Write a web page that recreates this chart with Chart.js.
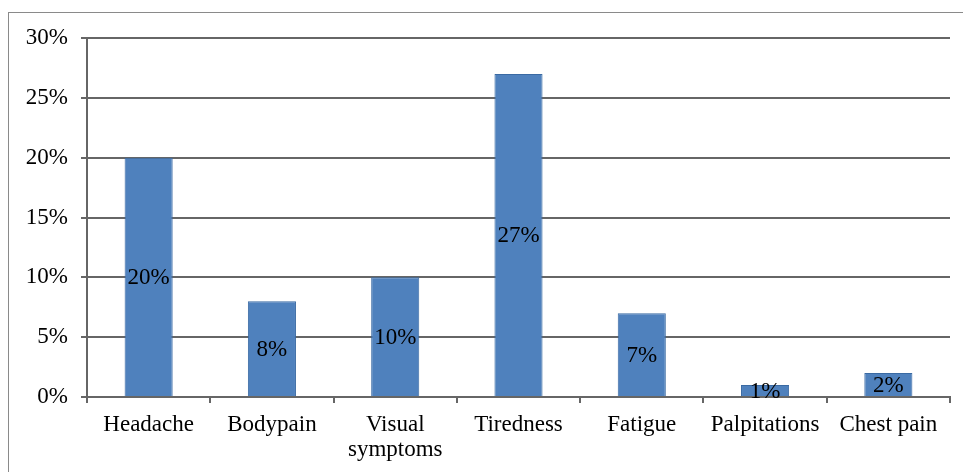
<!DOCTYPE html>
<html>
<head>
<meta charset="utf-8">
<script src="https://cdn.jsdelivr.net/npm/chart.js@4/dist/chart.umd.min.js"></script>
<style>
  html, body { margin: 0; padding: 0; background: #fff; }
  #wrap { position: relative; width: 963px; height: 472px; }
  #frame { position: absolute; left: 8px; top: 12px; right: 0; bottom: 0;
           border-left: 1.5px solid #8a8a8a; border-top: 1.5px solid #8a8a8a; pointer-events: none; }
  canvas { position: absolute; left: 0; top: 0; }
</style>
</head>
<body>
<div id="wrap">
  <canvas id="c" width="963" height="472"></canvas>
  <div id="frame"></div>
</div>
<script>
const categories = ['Headache', 'Bodypain', ['Visual', 'symptoms'], 'Tiredness', 'Fatigue', 'Palpitations', 'Chest pain'];
const values = [20, 8, 10, 27, 7, 1, 2];
const yTicks = [0, 5, 10, 15, 20, 25, 30];

const FONT = "'Liberation Serif', 'Times New Roman', serif";

const centerLabels = {
  id: 'centerLabels',
  afterDatasetsDraw(chart) {
    const ctx = chart.ctx;
    const meta = chart.getDatasetMeta(0);
    ctx.save();
    ctx.font = '23px ' + FONT;
    ctx.fillStyle = '#000';
    ctx.textAlign = 'center';
    ctx.textBaseline = 'middle';
    meta.data.forEach((bar, i) => {
      const yc = (bar.y + bar.base) / 2;
      ctx.fillText(values[i] + '%', bar.x, yc + 1);
    });
    ctx.restore();
  }
};

new Chart(document.getElementById('c'), {
  type: 'bar',
  data: {
    labels: categories,
    datasets: [{
      data: values,
      backgroundColor: '#4F81BD',
      borderColor: '#3A6AA3',
      borderWidth: 1,
      barPercentage: 0.39,
      categoryPercentage: 1
    }]
  },
  options: {
    responsive: false,
    animation: false,
    layout: { padding: { top: 38, right: 13, left: 0, bottom: 0 } },
    plugins: { legend: { display: false }, tooltip: { enabled: false } },
    scales: {
      x: {
        offset: true,
        grid: { display: true, drawOnChartArea: false, drawTicks: true, tickLength: 6, color: '#666', lineWidth: 2, offset: true },
        border: { display: true, color: '#666', width: 2 },
        ticks: { color: '#000', font: { family: FONT, size: 23, lineHeight: 1.1 }, padding: 9, maxRotation: 0, autoSkip: false },
        afterFit(scale) { scale.height = 75; }
      },
      y: {
        min: 0, max: 30,
        afterBuildTicks(scale) { scale.ticks = yTicks.map(v => ({ value: v })); },
        grid: { color: '#666', lineWidth: 2, tickLength: 6 },
        border: { display: true, color: '#666', width: 2 },
        ticks: { color: '#000', font: { family: FONT, size: 23 }, padding: 13, callback: v => v + '%' },
        afterFit(scale) { scale.width = 87; }
      }
    }
  },
  plugins: [centerLabels]
});
</script>
</body>
</html>
